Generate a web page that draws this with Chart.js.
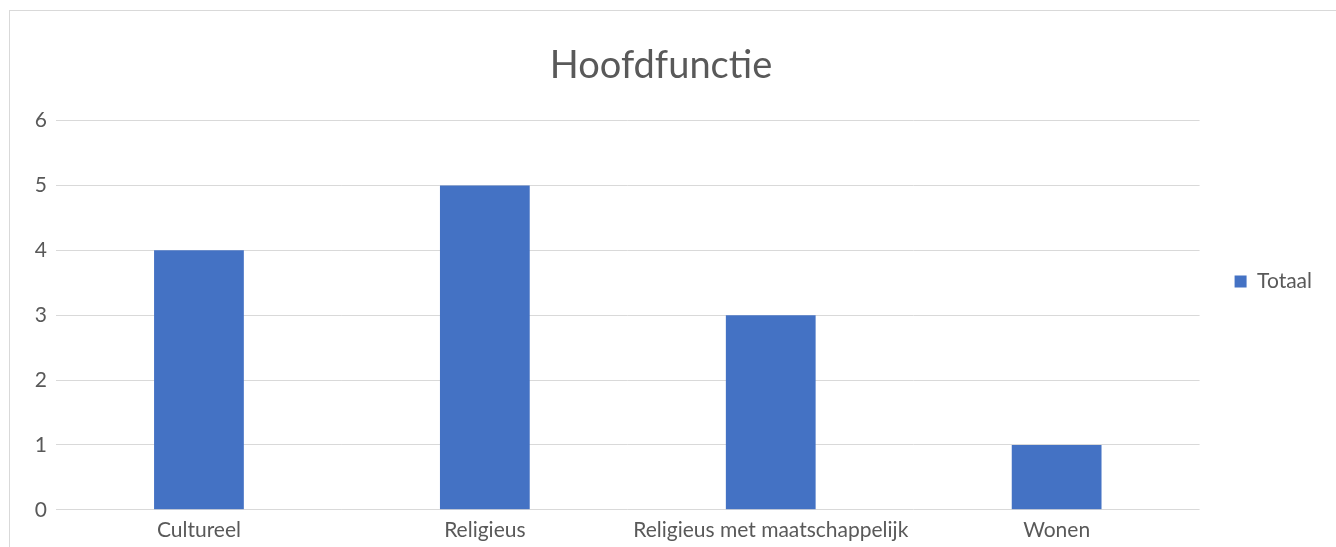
<!DOCTYPE html>
<html>
<head>
<meta charset="utf-8">
<script src="https://cdn.jsdelivr.net/npm/chart.js@4"></script>
<style>
  html, body { margin: 0; padding: 0; background: #fff; overflow: hidden; }
  #frame { position: absolute; left: 9px; top: 10px; width: 1400px; height: 600px; border: 1px solid #d9d9d9; box-sizing: border-box; }
  #wrap { position: absolute; left: 0; top: 0; width: 1336px; height: 547px; }
</style>
</head>
<body>
<div id="frame"></div>
<div id="wrap"><canvas id="chart" width="1336" height="547"></canvas></div>
<script>
const categories = ['Cultureel', 'Religieus', 'Religieus met maatschappelijk', 'Wonen'];
const totaal = [4, 5, 3, 1];
const yTicks = [0, 1, 2, 3, 4, 5, 6];

const textColor = '#595959';
const fontFamily = 'Lato, "Open Sans", sans-serif';

const ctx = document.getElementById('chart').getContext('2d');
new Chart(ctx, {
    type: 'bar',
    data: {
        labels: categories,
        datasets: [{
            label: 'Totaal',
            data: totaal,
            backgroundColor: '#4472c4',
            borderWidth: 0,
            categoryPercentage: 1,
            barPercentage: 0.314
        }]
    },
    options: {
        responsive: false,
        animation: false,
        layout: {
            padding: { top: 20, right: 14, bottom: 4, left: 0 }
        },
        plugins: {
            title: {
                display: true,
                text: 'Hoofdfunctie',
                color: textColor,
                font: { family: fontFamily, size: 38, weight: 'normal' },
                padding: { top: 23, bottom: 32 }
            },
            legend: {
                position: 'right',
                labels: {
                    color: textColor,
                    font: { family: fontFamily, size: 21 },
                    boxWidth: 12,
                    boxHeight: 12,
                    padding: 35
                }
            },
            tooltip: { enabled: false }
        },
        scales: {
            x: {
                grid: { display: false },
                border: { display: false },
                ticks: {
                    color: textColor,
                    font: { family: fontFamily, size: 21 },
                    padding: 0,
                    maxRotation: 0
                }
            },
            y: {
                min: 0,
                max: 6,
                afterFit: function(scale) { scale.width = 56; },
                afterBuildTicks: function(scale) {
                    scale.ticks = yTicks.map(v => ({ value: v }));
                },
                grid: { color: '#d9d9d9', lineWidth: 1, drawTicks: false },
                border: { display: false },
                ticks: {
                    color: textColor,
                    font: { family: fontFamily, size: 21 },
                    padding: 9
                }
            }
        }
    }
});
</script>
</body>
</html>
